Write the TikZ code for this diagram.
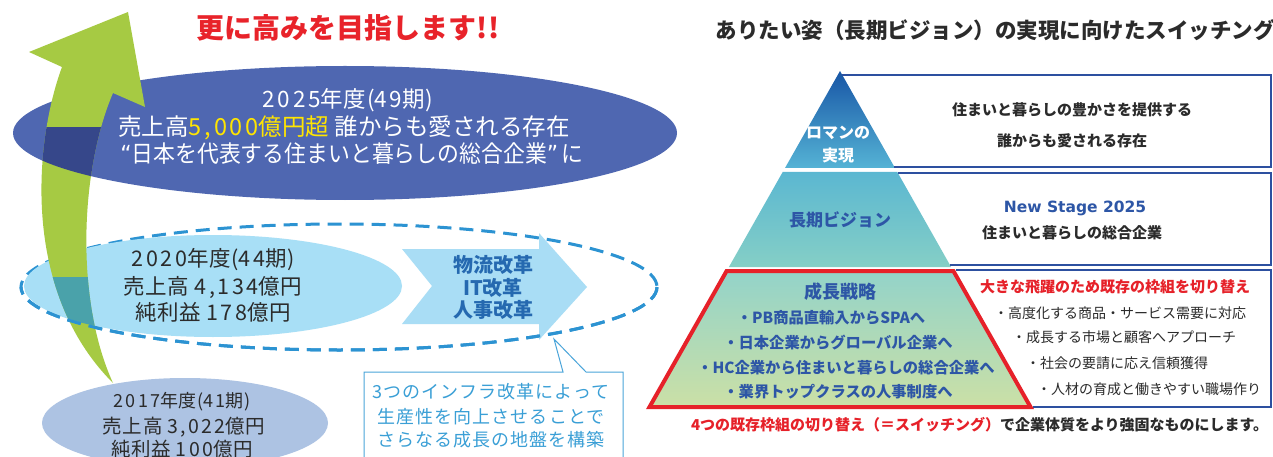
\documentclass[tikz,border=0pt]{standalone}
\usepackage{fontspec}
\setmainfont{Noto Sans CJK JP}
\newfontfamily\dejavu{DejaVu Sans}
\newfontfamily\ellfont[LetterSpace=3]{Noto Sans CJK JP}
\newfontfamily\numfont[LetterSpace=12]{Noto Sans CJK JP}
\newfontfamily\callfont[LetterSpace=6]{Noto Sans CJK JP}
\newcommand\nm[1]{{\numfont #1}}
\newcommand\fsz[1]{\fontsize{#1}{#1}\selectfont}
\definecolor{arrowgreen}{HTML}{A6CA43}
\definecolor{navyband}{HTML}{36478A}
\definecolor{ell25}{HTML}{4F67B1}
\definecolor{ell20}{HTML}{A8DFF6}
\definecolor{tealband}{HTML}{4AA2AA}
\definecolor{ell17}{HTML}{ADC3E3}
\definecolor{dashblue}{HTML}{2C93D2}
\definecolor{chevfill}{HTML}{A9DDF5}
\definecolor{chevtext}{HTML}{2569B0}
\definecolor{callline}{HTML}{4BA5DA}
\definecolor{calltext}{HTML}{3A9FD6}
\definecolor{titlered}{HTML}{E8232A}
\definecolor{darktext}{HTML}{2B2B2B}
\definecolor{yel}{HTML}{FFE500}
\definecolor{pyrblue}{HTML}{2D56A6}
\definecolor{boxline}{HTML}{2D50A0}
\definecolor{redline}{HTML}{E62129}
\begin{document}
\begin{tikzpicture}[x=1pt,y=-1pt,
  every node/.style={inner sep=0pt,outer sep=0pt},
  txt25/.style={text=white,font=\fsz{24}},
  txt25s/.style={text=white,font=\ellfont\fsz{22.5}},
  txt20/.style={text=darktext,font=\ellfont\fsz{21.5}},
  txt17/.style={text=darktext,font=\ellfont\fsz{19.5}},
  chevtxt/.style={text=chevtext,font=\bfseries\fsz{20}},
  calltxt/.style={text=calltext,font=\callfont\fsz{18}},
  pyrtxt/.style={text=pyrblue,font=\bfseries\fsz{15.3}},
  boxtxt/.style={text=darktext,font=\bfseries\fsz{15}},
  listtxt/.style={text=darktext,font=\fsz{14},anchor=west},
  dashell/.style={draw=dashblue,line width=3pt,dash pattern=on 14pt off 8pt},
  boxedge/.style={draw=boxline,line width=1.8pt}]
\useasboundingbox (0,0) rectangle (1273,457);
\clip (0,0) rectangle (1273,457);
\fill[white] (0,0) rectangle (1273,457);
\def\arrowpath{(128,12) -- (29,52) -- (62,67) .. controls (35,140) and (20,290) .. (113,383) .. controls (75,300) and (80,170) .. (113,93) -- (145,107) -- cycle}
% dashed ellipse
\draw[dashell] (339,287) ellipse [x radius=318, y radius=63];
% 2020 ellipse
\fill[ell20] (213,286) ellipse [x radius=189, y radius=51];
% 2025 ellipse
\fill[ell25] (345,133) ellipse [x radius=332, y radius=67];
% chevron
\fill[chevfill] (402,249) -- (539,249) -- (539,233) -- (587,287) -- (539,340) -- (539,324) -- (402,324) -- (432,286) -- cycle;
% callout
\filldraw[fill=white,draw=callline,line width=1pt] (364,470) -- (364,372) -- (563,372) -- (554,339) -- (586,372) -- (623,372) -- (623,470);
% green arrow
\fill[arrowgreen] \arrowpath;
\begin{scope}
  \clip \arrowpath;
  \clip (345,133) ellipse [x radius=332, y radius=67];
  \fill[navyband] (0,127) rectangle (700,210);
\end{scope}
\begin{scope}
  \clip \arrowpath;
  \clip (213,286) ellipse [x radius=189, y radius=51];
  \fill[tealband] (0,277) rectangle (700,340);
\end{scope}
\begin{scope}
  \clip (0,287) rectangle (700,360);
  \draw[dashell] (339,287) ellipse [x radius=318, y radius=63];
\end{scope}
% 2017 ellipse
\fill[ell17] (185,423) ellipse [x radius=143, y radius=45];

% titles
\node[text=titlered,font=\bfseries\fsz{28}] (titleL) at (348,28) {更に高みを目指します!!};
\node[text=darktext,font=\bfseries\fsz{21.5}] (titleR) at (995,30) {ありたい姿（長期ビジョン）の実現に向けたスイッチング};

% 2025 text
\node[txt25s] (t25a) at (348,100) {\nm{2025}年度(\nm{49}期)};
\node[txt25,font=\fsz{23.5}] (t25b) at (344,128) {売上高\textcolor{yel}{\nm{5,000}億円超}\ 誰からも愛される存在};
\node[txt25,font=\fsz{23.5},xscale=0.93,transform shape] (t25c) at (352,154) {{\dejavu“}日本を代表する住まいと暮らしの総合企業{\dejavu”}\,に};
% 2020 text
\node[txt20] (t20a) at (213,260) {\nm{2020}年度(\nm{44}期)};
\node[txt20] (t20b) at (213,287) {売上高 \nm{4,134}億円};
\node[txt20] (t20c) at (213,312) {純利益 \nm{178}億円};
% 2017 text
\node[txt17,font=\ellfont\fsz{18}] (t17a) at (182,402) {\nm{2017}年度(\nm{41}期)};
\node[txt17] (t17b) at (184,427) {売上高 \nm{3,022}億円};
\node[txt17] (t17c) at (182,449) {純利益 \nm{100}億円};
% chevron text
\node[chevtxt] (c1) at (493,265) {物流改革};
\node[chevtxt] (c2) at (493,288) {IT改革};
\node[chevtxt] (c3) at (493,310) {人事改革};
% callout text
\node[calltxt] (k1) at (491,392) {3つのインフラ改革によって};
\node[calltxt] (k2) at (491,417) {生産性を向上させることで};
\node[calltxt] (k3) at (491,440) {さらなる成長の地盤を構築};

% pyramid
\shade[top color={rgb,255:red,24;green,86;blue,166}, middle color={rgb,255:red,62;green,154;blue,214}, bottom color={rgb,255:red,85;green,179;blue,213}] (840,71) -- (895,168) -- (785,168) -- cycle;
\shade[top color={rgb,255:red,91;green,183;blue,209}, bottom color={rgb,255:red,133;green,207;blue,198}] (782.7,172) -- (897.3,172) -- (951.1,267) -- (728.9,267) -- cycle;
\shade[top color={rgb,255:red,147;green,211;blue,201}, bottom color={rgb,255:red,203;green,224;blue,166}] (726.6,271) -- (953.4,271) -- (1030.5,407) -- (649.5,407) -- cycle;
\draw[draw=redline,line width=4pt,line join=miter] (726.6,271) -- (953.4,271) -- (1030.5,407) -- (649.5,407) -- cycle;

% boxes
\draw[boxedge] (842,75) -- (1271,75) -- (1271,167) -- (894,167);
\draw[boxedge] (898,173) -- (1271,173) -- (1271,265) -- (950,265);
\draw[boxedge] (956,270) -- (1271,270) -- (1271,407) -- (1033,407);

% pyramid text
\node[text=white,font=\bfseries\fsz{16}] (p1a) at (838,133) {ロマンの};
\node[text=white,font=\bfseries\fsz{16}] (p1b) at (838,155) {実現};
\node[pyrtxt,font=\bfseries\fsz{17}] (p2) at (840,220) {長期ビジョン};
\node[pyrtxt,font=\bfseries\fsz{18}] (p3) at (840,292) {成長戦略};
\node[pyrtxt] (p3a) at (831,318) {・PB商品直輸入からSPAへ};
\node[pyrtxt] (p3b) at (838,343) {・日本企業からグローバル企業へ};
\node[pyrtxt] (p3c) at (846,368) {・HC企業から住まいと暮らしの総合企業へ};
\node[pyrtxt] (p3d) at (838,392) {・業界トップクラスの人事制度へ};

% box text
\node[boxtxt] (b1a) at (1072,110) {住まいと暮らしの豊かさを提供する};
\node[boxtxt] (b1b) at (1072,141) {誰からも愛される存在};
\node[text=pyrblue,font=\dejavu\bfseries\fsz{15.5}] (b2a) at (1075,208) {New Stage 2025};
\node[boxtxt] (b2b) at (1072,233) {住まいと暮らしの総合企業};
\node[boxtxt,text=redline] (b3) at (1115,287) {大きな飛躍のため既存の枠組を切り替え};
\node[listtxt] (l1) at (994,313) {・高度化する商品・サービス需要に対応};
\node[listtxt] (l2) at (1012,337) {・成長する市場と顧客へアプローチ};
\node[listtxt] (l3) at (1026,363) {・社会の要請に応え信頼獲得};
\node[listtxt] (l4) at (1037,389) {・人材の育成と働きやすい職場作り};

% bottom line
\node[boxtxt,text=redline,anchor=west] (bl1) at (691,425) {4つの既存枠組の切り替え（＝スイッチング）};
\node[boxtxt,anchor=west] (bl2) at (1000,425) {で企業体質をより強固なものにします。};
\end{tikzpicture}
\end{document}
